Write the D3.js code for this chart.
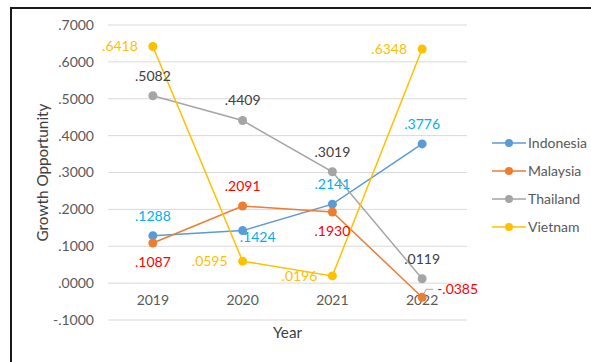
<!DOCTYPE html>
<html>
<head>
<meta charset="utf-8">
<script src="https://cdn.jsdelivr.net/npm/d3@7"></script>
<style>
  body { margin: 0; background: #fff; }
  svg { font-family: Lato, "Open Sans", sans-serif; }
  .tick-label { fill: #595959; font-size: 14px; }
  .axis-title { fill: #404040; font-size: 15.3px; }
  .legend-label { fill: #595959; font-size: 14px; }
  .data-label { font-size: 14px; }
</style>
</head>
<body>
<div id="chart"></div>
<script>
// chart data
const years = ["2019", "2020", "2021", "2022"];
const countries = ["Indonesia", "Malaysia", "Thailand", "Vietnam"];
const indonesia = [0.1288, 0.1424, 0.2141, 0.3776];
const malaysia = [0.1087, 0.2091, 0.1930, -0.0385];
const thailand = [0.5082, 0.4409, 0.3019, 0.0119];
const vietnam = [0.6418, 0.0595, 0.0196, 0.6348];
const yTicks = [-0.1, 0, 0.1, 0.2, 0.3, 0.4, 0.5, 0.6, 0.7];

// where each data label sits
const labelSpots = {
  Indonesia: ["above", "below-right", "above", "above"],
  Malaysia: ["below", "above", "below", "right-leader"],
  Thailand: ["above", "above", "above", "above"],
  Vietnam: ["left", "left", "left", "left"],
};

const lineColors = { Indonesia: "#5B9BD5", Malaysia: "#ED7D31", Thailand: "#A5A5A5", Vietnam: "#FFC000" };
const labelColors = { Indonesia: "#00B0F0", Malaysia: "#FF0000", Thailand: "#404040", Vietnam: "#FFC000" };

// ".6418" style numbers, plain hyphen for negatives
function fmt(v) {
  const body = Math.abs(v).toFixed(4).replace(/^0\./, ".");
  return (v < 0 ? "-" : "") + body;
}

const series = [
  { name: "Indonesia", values: indonesia },
  { name: "Malaysia", values: malaysia },
  { name: "Thailand", values: thailand },
  { name: "Vietnam", values: vietnam },
];

const outerWidth = 591;
const outerHeight = 362;
const plot = { left: 108, right: 467, top: 25, bottom: 320 };

const svg = d3.select("#chart")
  .append("svg")
  .attr("width", outerWidth)
  .attr("height", outerHeight);

// frame
svg.append("path")
  .attr("d", `M11,${outerHeight} V8 H${outerWidth}`)
  .attr("fill", "none")
  .attr("stroke", "#1a1a1a")
  .attr("stroke-width", 2);

// scales
const xScale = d3.scaleBand().domain(years).range([plot.left, plot.right]);
const yScale = d3.scaleLinear().domain([-0.1, 0.7]).range([plot.bottom, plot.top]);
const xPos = (year) => xScale(year) + xScale.bandwidth() / 2;

// gridlines and y labels
const yAxis = svg.append("g");
yAxis.selectAll("line")
  .data(yTicks)
  .enter()
  .append("line")
  .attr("x1", plot.left)
  .attr("x2", plot.right)
  .attr("y1", (d) => yScale(d))
  .attr("y2", (d) => yScale(d))
  .attr("stroke", "#d9d9d9")
  .attr("stroke-width", 1);

yAxis.selectAll("text")
  .data(yTicks)
  .enter()
  .append("text")
  .attr("class", "tick-label")
  .attr("x", 94)
  .attr("y", (d) => yScale(d))
  .attr("dy", "0.35em")
  .attr("text-anchor", "end")
  .text((d) => fmt(d));

// year labels
svg.append("g")
  .selectAll("text")
  .data(years)
  .enter()
  .append("text")
  .attr("class", "tick-label")
  .attr("x", (d) => xPos(d))
  .attr("y", 300)
  .attr("dy", "0.35em")
  .attr("text-anchor", "middle")
  .text((d) => d);

// axis titles
svg.append("text")
  .attr("class", "axis-title")
  .attr("x", (plot.left + plot.right) / 2)
  .attr("y", 333)
  .attr("dy", "0.35em")
  .attr("text-anchor", "middle")
  .text("Year");

svg.append("text")
  .attr("class", "axis-title")
  .attr("transform", `translate(43, ${(plot.top + plot.bottom) / 2}) rotate(-90)`)
  .attr("dy", "0.35em")
  .attr("text-anchor", "middle")
  .text("Growth Opportunity");

// lines and markers
const line = d3.line()
  .x((d, i) => xPos(years[i]))
  .y((d) => yScale(d));

series.forEach((s) => {
  svg.append("path")
    .datum(s.values)
    .attr("d", line)
    .attr("fill", "none")
    .attr("stroke", lineColors[s.name])
    .attr("stroke-width", 1.5);

  svg.append("g")
    .selectAll("circle")
    .data(s.values)
    .enter()
    .append("circle")
    .attr("cx", (d, i) => xPos(years[i]))
    .attr("cy", (d) => yScale(d))
    .attr("r", 4.5)
    .attr("fill", lineColors[s.name]);
});

// data labels
series.forEach((s) => {
  s.values.forEach((v, i) => {
    const px = xPos(years[i]);
    const py = yScale(v);
    const spot = labelSpots[s.name][i];
    let x = px;
    let y = py;
    let anchor = "middle";

    if (spot === "above") y = py - 20;
    if (spot === "below") y = py + 19;
    if (spot === "below-right") { x = px + 15; y = py + 6; }
    if (spot === "left") { x = px - 15; anchor = "end"; }
    if (spot === "right-leader") {
      x = px + 15;
      y = py - 8;
      anchor = "start";
      svg.append("path")
        .attr("d", `M${px + 2},${py - 4} L${px + 4},${y} H${px + 11}`)
        .attr("fill", "none")
        .attr("stroke", "#a6a6a6")
        .attr("stroke-width", 1);
    }

    svg.append("text")
      .attr("class", "data-label")
      .attr("x", x)
      .attr("y", y)
      .attr("dy", "0.35em")
      .attr("text-anchor", anchor)
      .attr("fill", labelColors[s.name])
      .text(fmt(v));
  });
});

// legend
const legend = svg.append("g");
countries.forEach((name, i) => {
  const ly = 143 + i * 28;
  legend.append("line")
    .attr("x1", 492)
    .attr("x2", 526)
    .attr("y1", ly)
    .attr("y2", ly)
    .attr("stroke", lineColors[name])
    .attr("stroke-width", 1.5);
  legend.append("circle")
    .attr("cx", 509)
    .attr("cy", ly)
    .attr("r", 4)
    .attr("fill", lineColors[name]);
  legend.append("text")
    .attr("class", "legend-label")
    .attr("x", 528)
    .attr("y", ly)
    .attr("dy", "0.35em")
    .text(name);
});
</script>
</body>
</html>
